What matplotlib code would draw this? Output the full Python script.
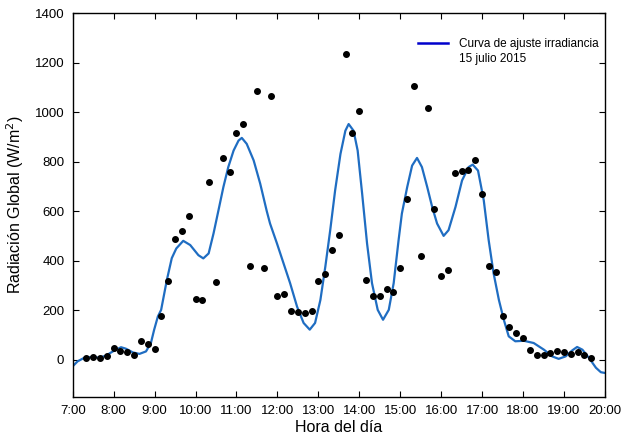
import matplotlib
matplotlib.use("Agg")
import matplotlib.pyplot as plt
from matplotlib.lines import Line2D

plt.rcParams['font.family'] = ['Liberation Sans', 'DejaVu Sans']

# Measured irradiance points (hour of day, W/m2), every 10 minutes from 7:20
obs_hours = [7 + n / 6 for n in range(2, 77)]
obs_values = [5, 12, 5, 15, 47, 36, 31, 17, 76, 64, 41, 178, 316, 489, 520, 579,
              245, 241, 716, 312, 814, 760, 916, 951, 378, 1085, 369, 1066, 259,
              267, 197, 192, 188, 197, 317, 347, 441, 503, 1235, 914, 1004, 321,
              259, 259, 286, 272, 369, 649, 1106, 418, 1018, 610, 338, 361, 756,
              764, 768, 805, 668, 378, 353, 176, 130, 109, 87, 37, 20, 20, 28, 36,
              32, 24, 32, 19, 7]

# Fitted curve
fit_hours = [7.00, 7.12, 7.28, 7.49, 7.65, 7.81, 7.98, 8.18, 8.30, 8.47, 8.63,
             8.79, 8.91, 8.99, 9.08, 9.16, 9.30, 9.42, 9.53, 9.70, 9.87, 10.07,
             10.19, 10.32, 10.44, 10.56, 10.68, 10.80, 10.93, 11.05, 11.13,
             11.25, 11.42, 11.58, 11.74, 11.82, 11.99, 12.15, 12.31, 12.48,
             12.64, 12.79, 12.92, 13.05, 13.17, 13.29, 13.41, 13.54, 13.66,
             13.74, 13.86, 13.96, 14.07, 14.19, 14.31, 14.45, 14.58, 14.72,
             14.84, 14.96, 15.04, 15.17, 15.29, 15.41, 15.53, 15.66, 15.78,
             15.90, 16.06, 16.18, 16.35, 16.51, 16.67, 16.77, 16.90, 17.04,
             17.16, 17.28, 17.41, 17.53, 17.65, 17.81, 18.02, 18.26, 18.51,
             18.71, 18.87, 19.04, 19.20, 19.32, 19.45, 19.61, 19.78, 19.90,
             20.00]
fit_values = [-27, -7, 7, 11, 7, 16, 33, 50, 44, 29, 23,
              33, 67, 121, 174, 201, 322, 410, 449, 480, 463, 422,
              409, 429, 510, 603, 697, 778, 845, 885, 896,
              872, 805, 711, 600, 550, 469, 389, 309, 214,
              148, 121, 148, 241, 375, 523, 684, 831, 925,
              952, 925, 845, 670, 469, 309, 201, 161, 201,
              309, 483, 590, 697, 784, 815, 778, 697, 617,
              550, 500, 523, 617, 724, 778, 788, 764, 644,
              483, 349, 241, 161, 94, 74, 76, 67, 40,
              13, 3, 13, 37, 51, 40, 7, -33, -51,
              -54]

tick_hours = list(range(7, 21))
tick_labels = [f"{h}:00" for h in tick_hours]
y_ticks = [0, 200, 400, 600, 800, 1000, 1200, 1400]
legend_lines = ['Curva de ajuste irradiancia', '15 julio 2015']

fig = plt.figure(figsize=(6.23, 4.40), dpi=100)
ax = fig.add_axes([0.1167, 0.0984, 0.971 - 0.1167, 0.970 - 0.0984])

ax.plot(fit_hours, fit_values, color='#1f6dc2', lw=1.6, zorder=2,
        solid_joinstyle='round')
ax.plot(obs_hours, obs_values, 'o', color='black', ms=4.0, zorder=3)

ax.set_xlim(7, 20)
ax.set_ylim(-150, 1400)
ax.set_xticks(tick_hours)
ax.set_xticklabels(tick_labels)
ax.set_yticks(y_ticks)
ax.tick_params(direction='in', top=True, right=True, length=4, width=0.8,
               labelsize=9.5, pad=6)
for s in ax.spines.values():
    s.set_linewidth(1.0)

ax.set_xlabel('Hora del día', fontsize=11.5, labelpad=2)
ax.set_ylabel('Radiación Global (W/m$^2$)', fontsize=11.5, labelpad=6)

handles = [Line2D([], [], color='#0000cc', lw=1.8),
           Line2D([], [], color='none', lw=1.8)]
ax.legend(handles, legend_lines,
          loc='upper left', bbox_to_anchor=(0.628, 0.963), frameon=False,
          fontsize=8.5, handlelength=2.6, handletextpad=0.9, labelspacing=0.25)

fig.savefig('out.png', dpi=100)
